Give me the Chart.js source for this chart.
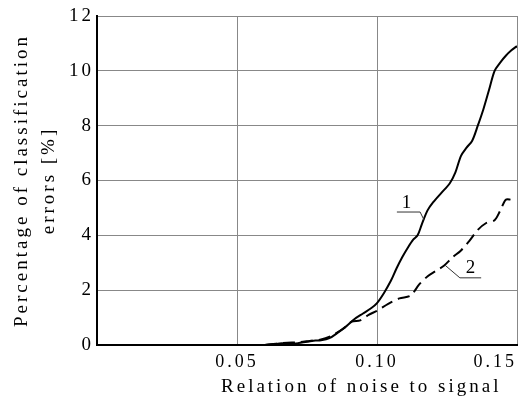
<!DOCTYPE html>
<html>
<head>
<meta charset="utf-8">
<script src="https://cdn.jsdelivr.net/npm/chart.js@4"></script>
<style>
  html, body { margin: 0; padding: 0; background: #fff; }
  #wrap { width: 531px; height: 398px; }
</style>
</head>
<body>
<div id="wrap"><canvas id="errChart"></canvas></div>
<script>
// данные с графика
const curve1X = [0.060, 0.063, 0.066, 0.069, 0.072, 0.075, 0.078, 0.080, 0.083, 0.086, 0.089, 0.092, 0.095, 0.098, 0.100, 0.1025, 0.105, 0.107, 0.109, 0.111, 0.113, 0.1145, 0.116, 0.118, 0.120, 0.123, 0.126, 0.128, 0.130, 0.132, 0.134, 0.136, 0.138, 0.140, 0.142, 0.144, 0.146, 0.148, 0.150]
const curve1Y = [0, 0.03, 0.06, 0.04, 0.07, 0.12, 0.16, 0.17, 0.25, 0.45, 0.68, 0.95, 1.15, 1.35, 1.53, 1.9, 2.35, 2.8, 3.2, 3.55, 3.85, 4.0, 4.4, 4.9, 5.2, 5.55, 5.9, 6.3, 6.9, 7.2, 7.45, 8.0, 8.6, 9.3, 10.0, 10.3, 10.55, 10.75, 10.9]

const curve2X = [0.060, 0.064, 0.068, 0.072, 0.076, 0.080, 0.084, 0.088, 0.091, 0.094, 0.097, 0.100, 0.104, 0.108, 0.112, 0.115, 0.118, 0.121, 0.124, 0.127, 0.130, 0.133, 0.136, 0.139, 0.142, 0.144, 0.146, 0.148]
const curve2Y = [0, 0.05, 0.08, 0.1, 0.15, 0.2, 0.35, 0.6, 0.85, 0.9, 1.1, 1.25, 1.5, 1.7, 1.8, 2.2, 2.5, 2.7, 2.9, 3.2, 3.45, 3.8, 4.2, 4.45, 4.55, 4.9, 5.3, 5.3]

const xTicks = [0, 0.05, 0.10, 0.15]
const yTicks = [0, 2, 4, 6, 8, 10, 12]

// подписи кривых: текст и выноска (в единицах данных)
const curveLabels = [
	{ text: '1', at: [0.1111, 5.12], leader: [[0.1071, 4.85], [0.1154, 4.85], [0.1168, 4.56]] },
	{ text: '2', at: [0.1339, 2.74], leader: [[0.1243, 2.91], [0.1296, 2.45], [0.1372, 2.45]] },
]

const toPoints = (xs, ys) => xs.map((x, i) => ({ x, y: ys[i] }))

const serif = "'Liberation Serif', 'Times New Roman', serif"

const spacingPlugin = {
	id: 'spacing',
	beforeUpdate(chart) { chart.ctx.letterSpacing = '3px' },
	beforeDraw(chart) { chart.ctx.letterSpacing = '3px' },
}

const labelPlugin = {
	id: 'curveLabels',
	afterDatasetsDraw(chart) {
		const { ctx, scales: { x, y } } = chart
		ctx.save()
		ctx.strokeStyle = '#333'
		ctx.lineWidth = 1
		curveLabels.forEach(lbl => {
			ctx.beginPath()
			lbl.leader.forEach((p, i) => {
				const px = x.getPixelForValue(p[0])
				const py = y.getPixelForValue(p[1])
				if (i === 0) ctx.moveTo(px, py)
				else ctx.lineTo(px, py)
			})
			ctx.stroke()
			ctx.fillStyle = '#000'
			ctx.font = '19px ' + serif
			ctx.textAlign = 'center'
			ctx.textBaseline = 'bottom'
			ctx.fillText(lbl.text, x.getPixelForValue(lbl.at[0]), y.getPixelForValue(lbl.at[1]) + 8)
		})
		ctx.restore()
	},
}

new Chart(document.getElementById('errChart').getContext('2d'), {
	type: 'line',
	data: {
		datasets: [
			{
				label: '1',
				data: toPoints(curve1X, curve1Y),
				borderColor: '#000',
				borderWidth: 2,
				pointRadius: 0,
				tension: 0.3,
				fill: false,
			},
			{
				label: '2',
				data: toPoints(curve2X, curve2Y),
				borderColor: '#000',
				borderWidth: 2,
				borderDash: [12, 6],
				pointRadius: 0,
				tension: 0.3,
				fill: false,
			},
		],
	},
	options: {
		responsive: true,
		maintainAspectRatio: false,
		animation: false,
		layout: { padding: { top: 16, right: 14, left: 0, bottom: 0 } },
		scales: {
			x: {
				type: 'linear',
				min: 0,
				max: 0.15,
				afterBuildTicks: axis => { axis.ticks = xTicks.map(v => ({ value: v })) },
				afterFit: axis => {
					axis.height = 53
					axis.paddingLeft = 0
					axis.paddingRight = 0
				},
				grid: { color: '#888', lineWidth: 1, drawTicks: false },
				border: { color: '#000', width: 2 },
				ticks: {
					color: '#000',
					padding: 6,
					maxRotation: 0,
					align: 'inner',
					font: { family: serif, size: 18 },
					callback: v => (v === 0 ? '' : v.toFixed(2)),
				},
				title: {
					display: true,
					text: 'Relation of noise to signal  ',
					align: 'end',
					color: '#000',
					font: { family: serif, size: 19 },
					padding: { top: 0, bottom: 0 },
				},
			},
			y: {
				min: 0,
				max: 12,
				afterBuildTicks: axis => { axis.ticks = yTicks.map(v => ({ value: v })) },
				afterFit: axis => {
					axis.width = 97
					axis.paddingTop = 0
					axis.paddingBottom = 0
				},
				grid: { color: '#888', lineWidth: 1, drawTicks: false },
				border: { color: '#000', width: 2 },
				ticks: {
					color: '#000',
					padding: 3,
					font: { family: serif, size: 19 },
				},
				title: {
					display: true,
					text: ['Percentage of classification', 'errors [%]'],
					color: '#000',
					font: { family: serif, size: 19, lineHeight: 1.45 },
					padding: { top: 8, bottom: 0 },
				},
			},
		},
		plugins: {
			legend: { display: false },
			tooltip: { enabled: false },
		},
	},
	plugins: [spacingPlugin, labelPlugin],
})
</script>
</body>
</html>
